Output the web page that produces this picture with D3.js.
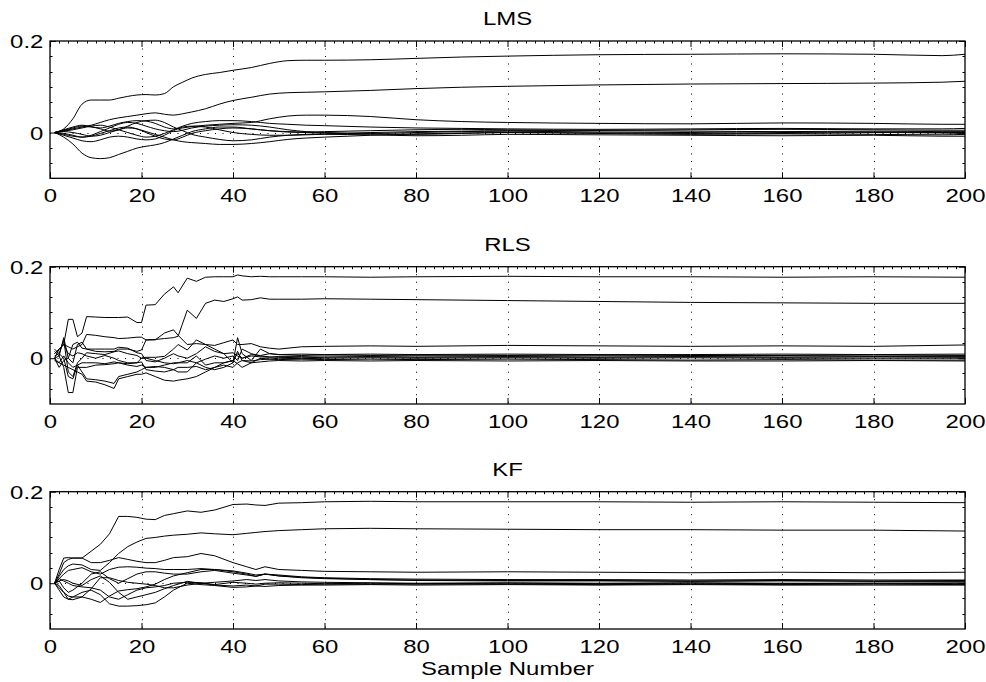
<!DOCTYPE html>
<html>
<head>
<meta charset="utf-8">
<script src="https://cdn.jsdelivr.net/npm/d3@7"></script>
<style>
  html, body { margin: 0; padding: 0; background: #fff; }
  svg { display: block; }
  text { font-family: "Liberation Sans", Arial, Helvetica, sans-serif; fill: #000; }
</style>
</head>
<body>
<svg id="chart" width="986" height="682"></svg>
<script>
// ---------------- DATA ----------------
const panelTitles = ["LMS", "RLS", "KF"];
const xLabel = "Sample Number";
const xTickValues = [0, 20, 40, 60, 80, 100, 120, 140, 160, 180, 200];
const yTickValues = [0, 0.2];
const yTickLabels = ["0", "0.2"];

const lmsX = [1,3,5,7,9,11,13,15,17,19,21,23,25,27,29,31,34,37,40,44,48,52,56,60,70,80,90,100,120,140,160,180,195,200];
const lmsValues = [
  [0,0.008,0.03,0.062,0.071,0.071,0.071,0.075,0.079,0.082,0.083,0.082,0.085,0.1,0.11,0.119,0.127,0.131,0.136,0.142,0.151,0.157,0.158,0.158,0.159,0.162,0.165,0.167,0.17,0.171,0.172,0.171,0.168,0.171],
  [0,0.004,0.008,0.012,0.016,0.022,0.028,0.032,0.035,0.038,0.041,0.043,0.04,0.038,0.041,0.045,0.052,0.062,0.07,0.077,0.084,0.087,0.088,0.089,0.092,0.096,0.099,0.101,0.104,0.106,0.107,0.108,0.11,0.112],
  [0,0.005,0.01,0.014,0.012,0.01,0.014,0.02,0.024,0.026,0.025,0.02,0.012,0.008,0.01,0.013,0.016,0.018,0.02,0.022,0.03,0.036,0.038,0.038,0.035,0.028,0.024,0.022,0.02,0.019,0.021,0.02,0.018,0.018],
  [0,0.006,0.012,0.016,0.013,0.008,0.003,0.006,0.014,0.022,0.026,0.027,0.022,0.012,0.004,-0.004,-0.01,-0.015,-0.018,-0.016,-0.01,-0.006,-0.004,-0.003,0,0.002,0.003,0.004,0.004,0.003,0.002,0.003,0.002,0.002],
  [0,0.003,0.006,0.01,0.014,0.016,0.012,0.006,0,-0.006,-0.01,-0.008,-0.002,0.006,0.014,0.02,0.024,0.026,0.026,0.024,0.02,0.018,0.016,0.015,0.012,0.01,0.009,0.008,0.007,0.008,0.009,0.008,0.008,0.009],
  [0,-0.004,-0.008,-0.01,-0.006,0.002,0.01,0.018,0.022,0.02,0.014,0.008,0.004,0.002,0.005,0.01,0.014,0.016,0.017,0.016,0.012,0.006,0.002,0,-0.002,0,0.002,0.003,0.001,0,-0.002,0,-0.001,-0.002],
  [0,-0.002,-0.006,-0.01,-0.008,-0.002,0.004,0.01,0.012,0.008,0,-0.008,-0.014,-0.016,-0.01,-0.002,0.004,0.008,0.01,0.008,0.004,0.001,0,-0.001,-0.003,-0.004,-0.002,0,-0.002,-0.004,-0.003,-0.004,-0.005,-0.004],
  [0,-0.006,-0.012,-0.018,-0.02,-0.016,-0.01,-0.008,-0.01,-0.014,-0.016,-0.014,-0.006,0.004,0.012,0.014,0.012,0.006,0,-0.004,-0.006,-0.006,-0.005,-0.004,-0.005,-0.007,-0.006,-0.004,-0.005,-0.006,-0.007,-0.006,-0.008,-0.008],
  [0,-0.01,-0.025,-0.045,-0.055,-0.057,-0.055,-0.048,-0.041,-0.034,-0.03,-0.027,-0.022,-0.014,-0.006,0.002,0.008,0.012,0.012,0.008,0.004,0.002,0.001,0.002,0.004,0.006,0.007,0.006,0.005,0.006,0.007,0.006,0.005,0.005],
  [0,0.002,0,-0.004,-0.008,-0.006,0,0.006,0.01,0.008,0.002,-0.004,-0.01,-0.016,-0.02,-0.022,-0.024,-0.026,-0.026,-0.024,-0.02,-0.015,-0.012,-0.01,-0.006,-0.003,-0.001,0,-0.001,-0.002,0,0.001,0,0]
];

const rlsX = [1,2,3,4,5,6,7,8,10,12,14,15,17,19,20,21,23,25,27,28,30,32,34,36,38,40,41,42,44,46,48,50,55,60,70,80,100,120,140,160,180,200];
const rlsValues = [
  [0.01,0.02,0.03,0.085,0.085,0.047,0.055,0.091,0.09,0.089,0.089,0.089,0.09,0.078,0.078,0.116,0.117,0.14,0.156,0.143,0.175,0.168,0.177,0.178,0.178,0.178,0.182,0.18,0.178,0.179,0.178,0.178,0.178,0.178,0.177,0.178,0.179,0.178,0.178,0.177,0.178,0.177],
  [0.01,0.02,0.03,0.025,0.02,0.025,0.03,0.052,0.05,0.047,0.045,0.043,0.044,0.046,0.046,0.04,0.041,0.043,0.045,0.048,0.105,0.087,0.12,0.127,0.124,0.13,0.134,0.127,0.128,0.132,0.129,0.129,0.129,0.13,0.129,0.128,0.126,0.124,0.122,0.121,0.12,0.12],
  [0.015,0.005,0.045,0,-0.01,0.03,0.035,0.02,0.015,0.014,0.015,0.02,0.02,0.015,0.018,0.04,0.04,0.055,0.062,0.05,0.03,0.032,0.03,0.028,0.034,0.04,0.03,0.03,0.032,0.025,0.022,0.02,0.025,0.026,0.027,0.026,0.028,0.027,0.026,0.027,0.026,0.029],
  [0.005,0.01,0.04,-0.03,-0.04,-0.01,0,0.012,0.01,0.008,0.014,0.016,0.01,0.006,0,0.002,0.002,0.004,0.02,0.03,0.018,0.04,0.03,0.02,0.01,-0.01,0.045,0.01,-0.005,0.02,0.01,0.008,0.006,0.008,0.006,0.007,0.006,0.007,0.006,0.006,0.007,0.006],
  [0,0.005,-0.02,-0.075,-0.075,-0.02,-0.02,-0.02,-0.015,-0.014,-0.012,-0.01,-0.015,-0.018,-0.015,-0.02,-0.02,-0.015,-0.01,-0.01,-0.005,-0.01,-0.002,0.005,0,0.005,-0.005,0.02,0.01,0.005,0.003,0.002,0.001,0.002,0.003,0.002,0.003,0.002,0.003,0.002,0.003,0.002],
  [0.02,0.01,0,-0.04,-0.045,-0.015,-0.03,-0.045,-0.047,-0.05,-0.055,-0.04,-0.035,-0.03,-0.025,-0.02,-0.018,-0.02,-0.025,-0.03,-0.03,-0.01,-0.02,-0.025,-0.02,-0.01,0.015,-0.005,-0.01,0,-0.002,-0.003,-0.002,-0.003,-0.002,-0.003,-0.002,-0.003,-0.004,-0.003,-0.004,-0.004],
  [-0.005,-0.01,-0.015,-0.02,-0.025,-0.03,-0.035,-0.05,-0.052,-0.058,-0.066,-0.045,-0.04,-0.035,-0.035,-0.032,-0.04,-0.048,-0.05,-0.048,-0.045,-0.04,-0.03,-0.02,-0.015,-0.02,-0.01,-0.005,-0.006,-0.003,-0.002,0,-0.001,0,0.001,0,0.001,0,0.001,0,0,0],
  [0,0.02,0.03,0.01,0.005,0.012,0.01,0.005,0,0.006,0,-0.005,-0.01,-0.01,0,0,-0.005,-0.01,-0.012,-0.01,-0.01,0.005,-0.015,-0.01,-0.01,-0.005,0.01,0,0.005,0.003,0.002,0.004,0.004,0.005,0.004,0.005,0.004,0.005,0.004,0.005,0.004,0.004],
  [0,-0.02,-0.005,0,0.03,0.035,0.022,0.02,0.02,0.02,0.02,0.024,0.022,0.012,0.01,-0.005,-0.008,0,0.01,0.005,0,0.01,0.025,0.015,0.01,0.012,0.005,0,0.008,0.006,0.01,0.008,0.009,0.008,0.009,0.008,0.009,0.008,0.008,0.009,0.008,0.009],
  [0,-0.01,0.005,-0.01,-0.02,-0.015,-0.01,-0.01,-0.01,-0.012,-0.008,-0.01,-0.012,-0.01,-0.008,-0.025,-0.028,-0.03,-0.025,-0.02,-0.02,-0.018,-0.025,-0.02,-0.01,-0.005,-0.012,-0.02,-0.01,-0.008,-0.006,-0.005,-0.006,-0.005,-0.006,-0.005,-0.006,-0.005,-0.006,-0.006,-0.005,-0.006]
];

const kfX = [1,2,3,4,5,7,9,11,13,15,17,19,21,23,25,27,30,33,36,40,43,45,47,50,55,60,70,80,100,120,140,160,180,200];
const kfValues = [
  [0,0.03,0.055,0.056,0.055,0.055,0.07,0.085,0.108,0.146,0.146,0.144,0.14,0.139,0.148,0.152,0.158,0.155,0.16,0.172,0.173,0.171,0.17,0.175,0.176,0.178,0.179,0.178,0.178,0.178,0.177,0.178,0.177,0.176],
  [0,0.015,0.03,0.038,0.042,0.04,0.03,0.028,0.045,0.065,0.08,0.09,0.098,0.1,0.103,0.105,0.107,0.11,0.108,0.106,0.109,0.111,0.113,0.115,0.117,0.119,0.12,0.119,0.118,0.117,0.117,0.116,0.116,0.114],
  [0,0.02,0.045,0.052,0.055,0.055,0.045,0.045,0.05,0.056,0.052,0.048,0.045,0.045,0.05,0.056,0.058,0.065,0.06,0.045,0.036,0.03,0.036,0.03,0.028,0.026,0.025,0.024,0.025,0.024,0.023,0.024,0.023,0.024],
  [0,0.01,0.02,0.028,0.03,0.034,0.025,0.02,0.03,0.035,0.036,0.035,0.033,0.032,0.03,0.03,0.03,0.032,0.03,0.025,0.02,0.015,0.02,0.018,0.014,0.012,0.01,0.009,0.008,0.008,0.007,0.008,0.007,0.007],
  [0,-0.015,-0.03,-0.035,-0.03,-0.02,-0.015,-0.025,-0.045,-0.05,-0.05,-0.049,-0.047,-0.043,-0.03,-0.015,0,-0.003,-0.005,-0.009,-0.008,-0.006,-0.007,-0.005,-0.004,-0.004,-0.003,-0.004,-0.003,-0.004,-0.003,-0.004,-0.004,-0.004],
  [0,-0.01,-0.02,-0.028,-0.03,-0.03,-0.035,-0.042,-0.028,-0.017,-0.014,-0.012,-0.008,-0.002,0.008,0.016,0.023,0.03,0.03,0.027,0.022,0.018,0.02,0.016,0.013,0.011,0.008,0.006,0.005,0.005,0.004,0.005,0.004,0.004],
  [0,-0.005,-0.02,-0.035,-0.036,-0.03,-0.012,0.012,0.012,0.006,0.002,0,-0.002,-0.005,-0.01,-0.01,-0.004,0,0.002,0.005,0.008,0.006,0.008,0.005,0.003,0.002,0.001,0,0.001,0,0.001,0,0,0.001],
  [0,0.005,0.008,0.005,0,-0.005,0.008,0.016,0.002,-0.02,-0.035,-0.03,-0.025,-0.02,-0.012,-0.005,0.004,0,-0.004,-0.006,-0.004,-0.006,-0.002,-0.002,-0.003,-0.002,-0.002,-0.002,-0.002,-0.003,-0.002,-0.003,-0.002,-0.003],
  [0,0.01,0.005,0,-0.005,-0.008,-0.01,-0.015,-0.03,-0.035,-0.025,-0.015,-0.01,-0.008,-0.005,0,0.002,0.001,-0.003,0.002,0,-0.002,0,0.001,0,-0.001,0,-0.001,0,-0.001,0,-0.001,0,-0.001],
  [0,0.005,-0.01,-0.02,-0.015,0,0.02,0.025,0.01,0,0.01,0.02,0.025,0.025,0.022,0.02,0.02,0.025,0.028,0.022,0.018,0.015,0.02,0.016,0.012,0.01,0.008,0.007,0.006,0.006,0.005,0.006,0.005,0.006]
];

// ---------------- LAYOUT ----------------
const svg = d3.select("#chart");
svg.append("rect").attr("width", 986).attr("height", 682).attr("fill", "#fff");

const left = 50, right = 965;
const panelTops = [41, 266.7, 491.7];
const panelHeight = 137.3;
const fontSize = 18;
const stretch = 1.33;

const panels = [
  { title: panelTitles[0], xs: lmsX, values: lmsValues, curve: d3.curveMonotoneX },
  { title: panelTitles[1], xs: rlsX, values: rlsValues, curve: d3.curveLinear },
  { title: panelTitles[2], xs: kfX, values: kfValues, curve: d3.curveLinear }
];

const x = d3.scaleLinear().domain([0, 200]).range([left, right]);

panels.forEach((p, i) => {
  const top = panelTops[i], bottom = top + panelHeight;
  const y = d3.scaleLinear().domain([-0.1, 0.2]).range([bottom, top]);
  const g = svg.append("g");

  // grid (dotted)
  const gridX = xTickValues.filter(v => v > 0 && v < 200);
  g.selectAll(".vgrid").data(gridX).enter().append("line")
    .attr("x1", d => Math.round(x(d)) + 0.5).attr("x2", d => Math.round(x(d)) + 0.5)
    .attr("y1", top).attr("y2", bottom)
    .attr("stroke", "#000").attr("stroke-width", 1).attr("stroke-dasharray", "1,6.5");
  g.append("line")
    .attr("x1", left).attr("x2", right)
    .attr("y1", Math.round(y(0)) + 0.5).attr("y2", Math.round(y(0)) + 0.5)
    .attr("stroke", "#000").attr("stroke-width", 1).attr("stroke-dasharray", "1,6.5");

  // data lines
  const line = d3.line().x(d => x(d[0])).y(d => y(d[1])).curve(p.curve);
  p.values.forEach(series => {
    const pts = p.xs.map((xv, k) => [xv, series[k]]);
    g.append("path").attr("d", line(pts))
      .attr("fill", "none").attr("stroke", "#000").attr("stroke-width", 1)
      .attr("stroke-linejoin", "round");
  });

  // minor ticks: top edge every 2 samples, left/right edges
  const minorX = d3.range(2, 200, 2).filter(v => v % 20 !== 0);
  g.selectAll(".mtop").data(minorX).enter().append("line")
    .attr("x1", d => Math.round(x(d)) + 0.5).attr("x2", d => Math.round(x(d)) + 0.5)
    .attr("y1", top).attr("y2", top + 2.5)
    .attr("stroke", "#000").attr("stroke-width", 1);
  const minorY = d3.range(1, 9).map(k => -0.1 + k * 0.3 / 9).filter(v => Math.abs(v) > 1e-6);
  g.selectAll(".mleft").data(minorY).enter().append("line")
    .attr("x1", left).attr("x2", left + 2.5)
    .attr("y1", d => Math.round(y(d)) + 0.5).attr("y2", d => Math.round(y(d)) + 0.5)
    .attr("stroke", "#000").attr("stroke-width", 1);
  g.selectAll(".mright").data(minorY).enter().append("line")
    .attr("x1", right).attr("x2", right - 2.5)
    .attr("y1", d => Math.round(y(d)) + 0.5).attr("y2", d => Math.round(y(d)) + 0.5)
    .attr("stroke", "#000").attr("stroke-width", 1);

  // axes
  const xAxis = d3.axisBottom(x).tickValues(xTickValues).tickFormat(d3.format("d"))
    .tickSizeInner(-6).tickSizeOuter(0).tickPadding(0);
  const gx = g.append("g").attr("transform", `translate(0,${bottom})`).call(xAxis);
  gx.select(".domain").remove();
  gx.selectAll(".tick line").attr("stroke", "#000");
  gx.selectAll("text").attr("dy", null).attr("y", 24)
    .attr("font-size", fontSize).attr("font-family", "Liberation Sans, Arial, sans-serif")
    .attr("transform", `scale(${stretch},1)`);

  const xTop = d3.axisTop(x).tickValues(xTickValues).tickFormat("").tickSizeInner(-6).tickSizeOuter(0);
  const gxt = g.append("g").attr("transform", `translate(0,${top})`).call(xTop);
  gxt.select(".domain").remove();

  const yAxis = d3.axisLeft(y).tickValues(yTickValues).tickFormat((d, k) => yTickLabels[k])
    .tickSizeInner(-6).tickSizeOuter(0).tickPadding(5);
  const gy = g.append("g").attr("transform", `translate(${left},0)`).call(yAxis);
  gy.select(".domain").remove();
  gy.selectAll("text").attr("font-size", fontSize).attr("font-family", "Liberation Sans, Arial, sans-serif")
    .attr("dy", "0.36em").attr("transform", `scale(${stretch},1)`);

  const yRight = d3.axisRight(y).tickValues(yTickValues).tickFormat("").tickSizeInner(-6).tickSizeOuter(0);
  const gyr = g.append("g").attr("transform", `translate(${right},0)`).call(yRight);
  gyr.select(".domain").remove();

  // box
  g.append("rect").attr("x", left).attr("y", top).attr("width", right - left).attr("height", panelHeight)
    .attr("fill", "none").attr("stroke", "#000").attr("stroke-width", 1.3);

  // title
  svg.append("text")
    .attr("transform", `translate(${(left + right) / 2},${top - 16}) scale(${stretch},1)`)
    .attr("text-anchor", "middle").attr("font-size", fontSize).text(p.title);
});

// x label
svg.append("text")
  .attr("transform", `translate(${(left + right) / 2},${675}) scale(${stretch},1)`)
  .attr("text-anchor", "middle").attr("font-size", fontSize).text(xLabel);
</script>
</body>
</html>
